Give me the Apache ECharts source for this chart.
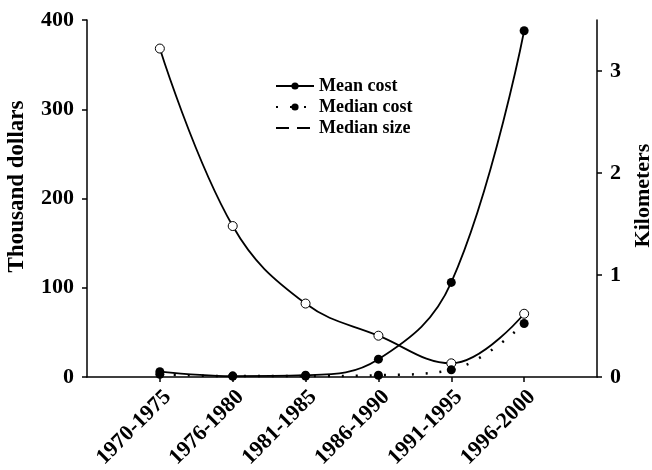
<!DOCTYPE html>
<html><head><meta charset="utf-8">
<script src="https://cdn.jsdelivr.net/npm/echarts@6/dist/echarts.min.js"></script>
<style>html,body{margin:0;padding:0;background:#fff}#c{width:652px;height:470px}</style>
</head><body><div id="c"></div>
<script>
const categories = ['1970-1975','1976-1980','1981-1985','1986-1990','1991-1995','1996-2000'];
const meanCost = [6, 1, 2, 20, 106, 388];
const medianCost = [3, 1, 1, 2, 8, 60];
const medianSize = [3.22, 1.48, 0.72, 0.405, 0.134, 0.62];
const leftTicks = [0, 100, 200, 300, 400];
const rightTicks = [0, 1, 2, 3];

const F = 'Liberation Serif, Times New Roman, serif';
const pos = categories.map((c, i) => i + 1);
const pair = arr => arr.map((v, i) => [pos[i], v]);

const chart = echarts.init(document.getElementById('c'));
chart.setOption({
  animation: false,
  backgroundColor: '#fff',
  grid: { left: 87, right: 55, top: 20, bottom: 93, containLabel: false, outerBoundsMode: 'none' },
  legend: {
    orient: 'vertical', left: 270, top: 72,
    itemWidth: 38, itemHeight: 9, itemGap: 3,
    textStyle: { fontFamily: F, fontWeight: 'bold', fontSize: 18, color: '#000' },
    data: [
      { name: 'Mean cost' },
      { name: 'Median cost' },
      { name: 'Median size', itemStyle: { opacity: 0 }, lineStyle: { type: [13, 8], width: 2 } }
    ]
  },
  xAxis: {
    type: 'value', min: 0, max: 7,
    axisLine: { show: true, onZero: false, lineStyle: { color: '#000', width: 1.5 } },
    axisTick: { show: true, length: 5, lineStyle: { color: '#000', width: 1.5 }, customValues: pos },
    splitLine: { show: false },
    axisLabel: {
      customValues: pos, rotate: 45, margin: 9, verticalAlign: 'top', align: 'right',
      fontFamily: F, fontWeight: 'bold', fontSize: 22, color: '#000',
      formatter: v => categories[Math.round(v) - 1] || ''
    }
  },
  yAxis: [
    {
      type: 'value', min: 0, max: 400, interval: 100, position: 'left',
      name: 'Thousand dollars', nameLocation: 'middle', nameGap: 58, nameRotate: 90,
      nameTextStyle: { fontFamily: F, fontWeight: 'bold', fontSize: 23, color: '#000', padding: [0, 0, 0, 24] },
      axisLine: { show: true, lineStyle: { color: '#000', width: 1.5 } },
      axisTick: { show: true, length: 5, lineStyle: { color: '#000', width: 1.5 }, customValues: leftTicks },
      splitLine: { show: false },
      axisLabel: { customValues: leftTicks, margin: 13, fontFamily: F, fontWeight: 'bold', fontSize: 22, color: '#000' }
    },
    {
      type: 'value', min: 0, max: 3.5, position: 'right',
      name: 'Kilometers', nameLocation: 'middle', nameGap: 34, nameRotate: 90,
      nameTextStyle: { fontFamily: F, fontWeight: 'bold', fontSize: 22, color: '#000', padding: [0, 0, 0, 6] },
      axisLine: { show: true, lineStyle: { color: '#000', width: 1.5 } },
      axisTick: { show: true, length: 5, lineStyle: { color: '#000', width: 1.5 }, customValues: rightTicks },
      splitLine: { show: false },
      axisLabel: { customValues: rightTicks, margin: 13, fontFamily: F, fontWeight: 'bold', fontSize: 22, color: '#000' }
    }
  ],
  series: [
    {
      name: 'Median size', type: 'line', yAxisIndex: 1, smooth: 0.4,
      data: pair(medianSize),
      symbol: 'circle', symbolSize: 9,
      itemStyle: { color: '#fff', borderColor: '#000', borderWidth: 1 },
      lineStyle: { color: '#000', width: 1.8 },
      z: 3
    },
    {
      name: 'Mean cost', type: 'line', yAxisIndex: 0, smooth: 0.4,
      data: pair(meanCost),
      symbol: 'circle', symbolSize: 9,
      itemStyle: { color: '#000' },
      lineStyle: { color: '#000', width: 1.8 },
      z: 4
    },
    {
      name: 'Median cost', type: 'line', yAxisIndex: 0, smooth: 0.4,
      data: pair(medianCost),
      symbol: 'circle', symbolSize: 9,
      itemStyle: { color: '#000' },
      lineStyle: { color: '#000', width: 2.5, type: [2, 12] },
      z: 4
    }
  ]
});
</script></body></html>
